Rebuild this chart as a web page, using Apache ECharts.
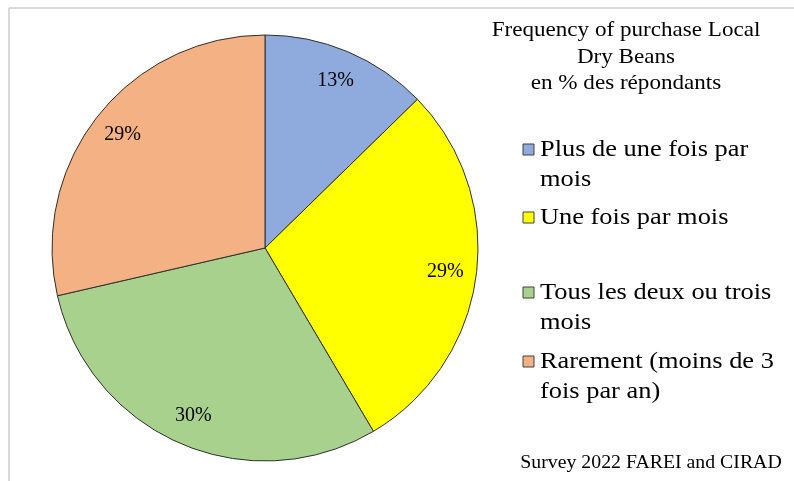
<!DOCTYPE html>
<html>
<head>
<meta charset="utf-8">
<script src="https://cdn.jsdelivr.net/npm/echarts@6/dist/echarts.min.js"></script>
<style>
  html, body { margin: 0; padding: 0; background: #fff; }
  #chart { width: 794px; height: 481px; }
</style>
</head>
<body>
<div id="chart"></div>
<script>
// donnees du graphique
var categories = ['Plus de une fois par mois', 'Une fois par mois', 'Tous les deux ou trois mois', 'Rarement (moins de 3 fois par an)'];
var legendLines = ['Plus de une fois par\nmois', 'Une fois par mois', 'Tous les deux ou trois\nmois', 'Rarement (moins de 3\nfois par an)'];
var values = [12.7, 28.8, 29.9, 28.6];
var shownPct = ['13%', '29%', '30%', '29%'];
var colors = ['#8FAADC', '#FFFF00', '#A9D18E', '#F4B183'];
var titleText = 'Frequency of purchase Local\nDry Beans\nen % des répondants';
var sourceText = 'Survey 2022 FAREI and CIRAD';

var chart = echarts.init(document.getElementById('chart'));
var font = '"Liberation Serif", "Times New Roman", serif';
var stretch = 1.1; // le texte de l'original est un peu plus large

var pieData = values.map(function (v, i) {
    return { name: categories[i], value: v, itemStyle: { color: colors[i] } };
});

var graphics = [
    { type: 'line', shape: { x1: 9, y1: 8, x2: 794, y2: 8 }, style: { stroke: '#d9d9d9', lineWidth: 2 } },
    { type: 'line', shape: { x1: 9, y1: 8, x2: 9, y2: 481 }, style: { stroke: '#d9d9d9', lineWidth: 2 } },
    {
        type: 'text', x: 626, y: 17.5, scaleX: stretch,
        style: { text: titleText, font: '21px ' + font, fill: '#000', lineHeight: 26.5, textAlign: 'center', textVerticalAlign: 'top' }
    },
    {
        type: 'text', x: 651, y: 463, scaleX: stretch,
        style: { text: sourceText, font: '18px ' + font, fill: '#000', textAlign: 'center', textVerticalAlign: 'middle' }
    }
];

// legende a la main (icone alignee sur la premiere ligne)
var legendY = [150, 218, 293, 362];
legendLines.forEach(function (txt, i) {
    graphics.push({
        type: 'rect',
        shape: { x: 523, y: legendY[i] - 6, width: 11, height: 11 },
        style: { fill: colors[i], stroke: '#404040', lineWidth: 1 }
    });
    graphics.push({
        type: 'text', x: 540, y: legendY[i] - 15, scaleX: stretch,
        style: { text: txt, font: '24px ' + font, fill: '#000', lineHeight: 30, textVerticalAlign: 'top' }
    });
});

var option = {
    backgroundColor: '#fff',
    animation: false,
    graphic: graphics,
    series: [{
        type: 'pie',
        center: [265, 248],
        radius: 213,
        startAngle: 90,
        clockwise: true,
        silent: true,
        label: { show: false },
        labelLine: { show: false },
        itemStyle: { borderColor: '#303030', borderWidth: 1 },
        data: pieData
    }, {
        // anneau transparent pour placer les pourcentages pres du bord
        type: 'pie',
        center: [265, 248],
        radius: [145, 213],
        startAngle: 90,
        clockwise: true,
        silent: true,
        itemStyle: { color: 'transparent', borderWidth: 0 },
        label: {
            show: true, position: 'inside',
            fontFamily: font, fontSize: 20, color: '#000',
            formatter: function (p) { return shownPct[p.dataIndex]; }
        },
        labelLine: { show: false },
        data: pieData.map(function (d) { return { name: d.name, value: d.value }; })
    }]
};

chart.setOption(option);
</script>
</body>
</html>
